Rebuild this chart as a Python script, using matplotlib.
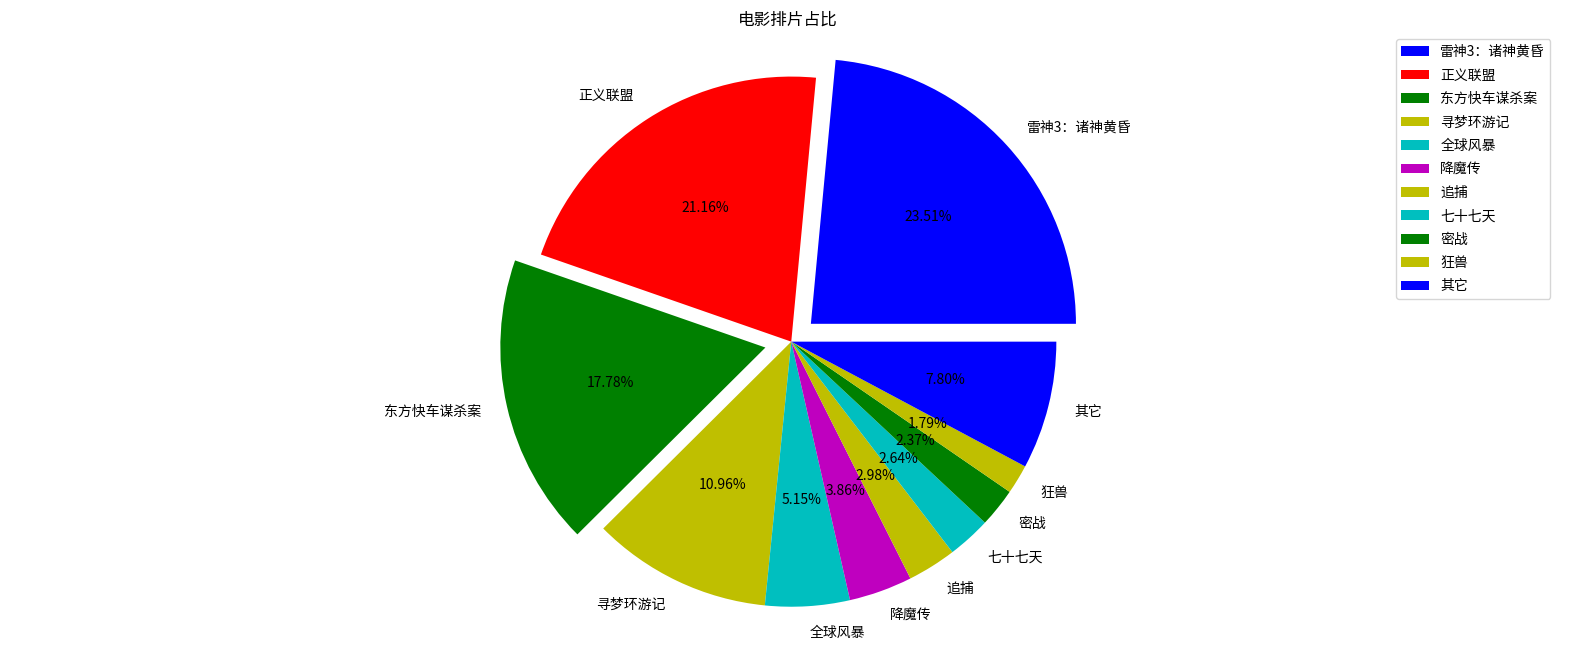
'''
Pie chart of movie screening share.
'''

import matplotlib
matplotlib.use('Agg')
import matplotlib.pyplot as plt

plt.rcParams['font.family'] = ['Noto Sans CJK SC', 'DejaVu Sans']
plt.rcParams['axes.unicode_minus'] = False

# Data
movies = ['雷神3：诸神黄昏', '正义联盟', '东方快车谋杀案', '寻梦环游记', '全球风暴',
          '降魔传', '追捕', '七十七天', '密战', '狂兽', '其它']
shares = [23.51, 21.16, 17.78, 10.96, 5.15, 3.86, 2.98, 2.64, 2.37, 1.79, 7.80]
colors = ['b', 'r', 'g', 'y', 'c', 'm', 'y', 'c', 'g', 'y', 'b']
# only the 1st and 3rd wedges are pulled out
explode = [0.1, 0, 0.1, 0, 0, 0, 0, 0, 0, 0, 0]


def main():
    fig = plt.figure(figsize=(15.7, 6.51), dpi=100)
    plt.pie(shares, labels=movies, colors=colors, explode=explode,
            autopct='%.2f%%')
    plt.axis('equal')
    plt.title('电影排片占比')
    # the original font had taller rows, so open up the legend a bit
    plt.legend(loc='upper right', labelspacing=0.68)
    # roughly what tight_layout gave on the original machine
    fig.subplots_adjust(left=0.012, right=0.992, top=0.950, bottom=0.026)
    plt.savefig('out.png')


if __name__ == "__main__":
    main()
